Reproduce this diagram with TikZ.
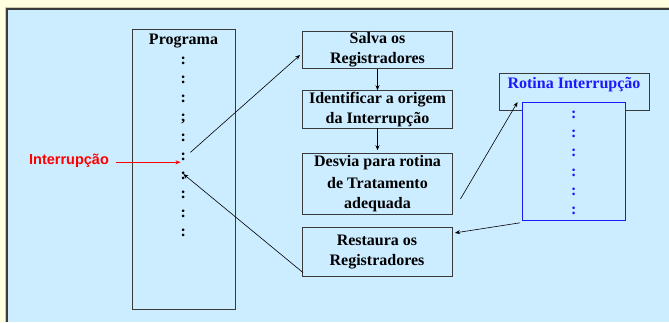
\documentclass[tikz,border=0pt]{standalone}
\usepackage{fontspec}
\setmainfont{Liberation Serif}
\newfontfamily\arialfont{Liberation Sans}
\usetikzlibrary{arrows.meta}
\definecolor{panelblue}{HTML}{CCECFF}
\definecolor{pageyellow}{HTML}{FFFFE0}
\definecolor{boxline}{HTML}{3A3A3A}
\definecolor{rotblue}{HTML}{1A1AFF}

\begin{document}
\begin{tikzpicture}[x=1pt,y=-1pt,>={Stealth[length=5pt,width=4pt]}]
		\tikzstyle{stepbox}=[draw=boxline,line width=0.9pt,minimum width=150pt,align=center,inner sep=0,font=\bfseries\fontsize{16}{20}\selectfont]
		\tikzstyle{dots}=[inner sep=0,font=\bfseries\fontsize{16}{20}\selectfont]
		\tikzstyle{conn}=[->,line width=0.6pt]

		\useasboundingbox[fill=pageyellow] (0,0) rectangle (669,322);
		\fill[panelblue] (7,9) rectangle (669,322);
		\draw[line width=0.8pt,pageyellow!80!black] (5.5,322) -- (5.5,7.5) -- (669,7.5);
		\draw[line width=1.2pt,boxline] (7,322) -- (7,9) -- (669,9);

		% programa
		\node[draw=boxline,line width=0.9pt,minimum width=103pt,minimum height=280pt] (prog) at (183.5,169) {};
		\node[dots] (progname) at (183.5,41) {Programa};
		\foreach \k/\c in {1/:,2/:,3/:,4/;,5/:,6/:,7/:,8/:,9/:,10/:}
			\node[dots,anchor=base] (d\k) at (183.4,45.6+19.08*\k) {\c};

		\node[text=red,inner sep=0,font=\arialfont\bfseries\fontsize{14.5}{17}\selectfont] (irq) at (69,160.3) {Interrupção};
		\draw[conn,red,line width=0.8pt] ([xshift=7pt,yshift=-2pt]irq.east) -- ([yshift=-2pt]irq.east -| d6.west);

		% tratamento
		\node[stepbox,minimum height=36.6pt] (salva) at (377.5,50) {Salva os\\Registradores};
		\node[stepbox,minimum height=37.3pt] (ident) at (377.5,109.3) {Identificar a origem\\da Interrupção};
		\node[stepbox,minimum height=60.6pt] (desvia) at (377.5,184) {Desvia para rotina\\[2pt]de Tratamento\\adequada};
		\node[stepbox,minimum height=48.3pt] (restaura) at (377,252) {Restaura os\\Registradores};

		\node[stepbox,minimum height=36.6pt] (rotina) at (574,92) {};
		\node[dots,text=rotblue] (rotinaname) at (574,85) {Rotina Interrupção};
		\node[draw=rotblue,line width=1.2pt,fill=panelblue,minimum width=103.7pt,minimum height=118pt] (rotbody) at (574,161.7) {};
		\foreach \k in {1,...,6}
			\node[dots,text=rotblue,anchor=base] (b\k) at (573.8,99.6+19.1*\k) {:};

		\draw[conn] ([xshift=7pt]d6.north) -- ([xshift=-2pt,yshift=-5pt]salva.west);
		\draw[conn] (salva) -- (ident);
		\draw[conn,shorten >=3pt] (ident) -- (desvia);
		\draw[conn] ([xshift=7.5pt,yshift=-15pt]desvia.east) -- ([xshift=-4pt]rotbody.north west);
		\draw[conn] ([xshift=-1.5pt,yshift=-1.5pt]rotbody.south west) -- ([xshift=2.5pt,yshift=-5.5pt]restaura.north east);
		\draw[conn] ([xshift=1.5pt,yshift=4pt]restaura.south west) -- ([yshift=1.5pt]d7.center);
	\end{tikzpicture}
\end{document}
